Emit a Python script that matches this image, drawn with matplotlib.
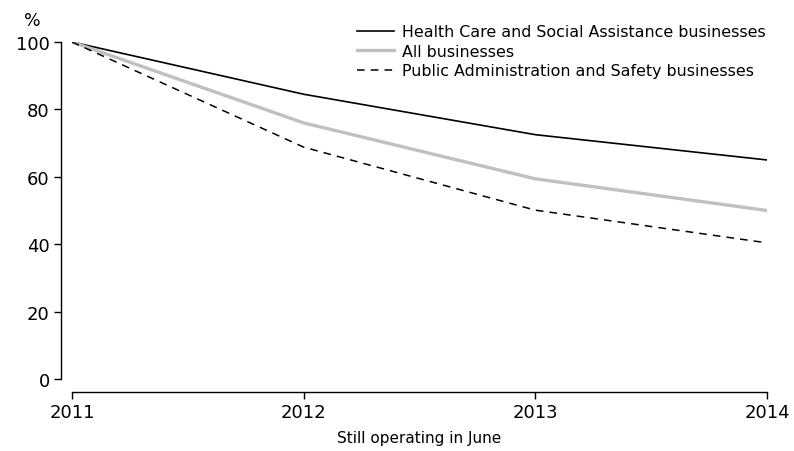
import matplotlib
matplotlib.use("Agg")
import matplotlib.pyplot as plt

years = [2011, 2012, 2013, 2014]
health_care = [100, 84.5, 72.5, 65.0]
all_businesses = [100, 76.0, 59.4, 50.0]
public_admin = [100, 68.8, 50.1, 40.4]

plt.rcParams['font.family'] = ['DejaVu Sans']

fig = plt.figure(figsize=(7.94, 4.52), dpi=100)
ax = fig.add_axes([72 / 794, 1 - 380 / 452, 695 / 794, 337 / 452])

ax.plot(years, health_care, color='black', lw=1.2, label='Health Care and Social Assistance businesses')
ax.plot(years, all_businesses, color='#c0c0c0', lw=2.4, label='All businesses')
ax.plot(years, public_admin, color='black', lw=1.1, dashes=(5, 4), label='Public Administration and Safety businesses')

ax.set_xlim(2011, 2014)
ax.set_ylim(0, 100)
ax.set_xticks(years)
ax.set_yticks([0, 20, 40, 60, 80, 100])

for s in ['top', 'right']:
    ax.spines[s].set_visible(False)
ax.spines['left'].set_position(('outward', 8))
ax.spines['bottom'].set_position(('outward', 9))
ax.spines['left'].set_linewidth(1.0)
ax.spines['bottom'].set_linewidth(1.0)
ax.tick_params(axis='both', length=5, width=1.0, labelsize=13, pad=3)

ax.set_xlabel('Still operating in June', fontsize=11, labelpad=7)
ax.text(-0.057, 1.04, '%', transform=ax.transAxes, fontsize=12.5, ha='center', va='bottom')

leg = ax.legend(loc='upper right', bbox_to_anchor=(1.008, 1.071), frameon=False, fontsize=11.4,
                handlelength=2.3, handletextpad=0.55, labelspacing=0.28, borderaxespad=0)

fig.savefig('out.png', dpi=100)
